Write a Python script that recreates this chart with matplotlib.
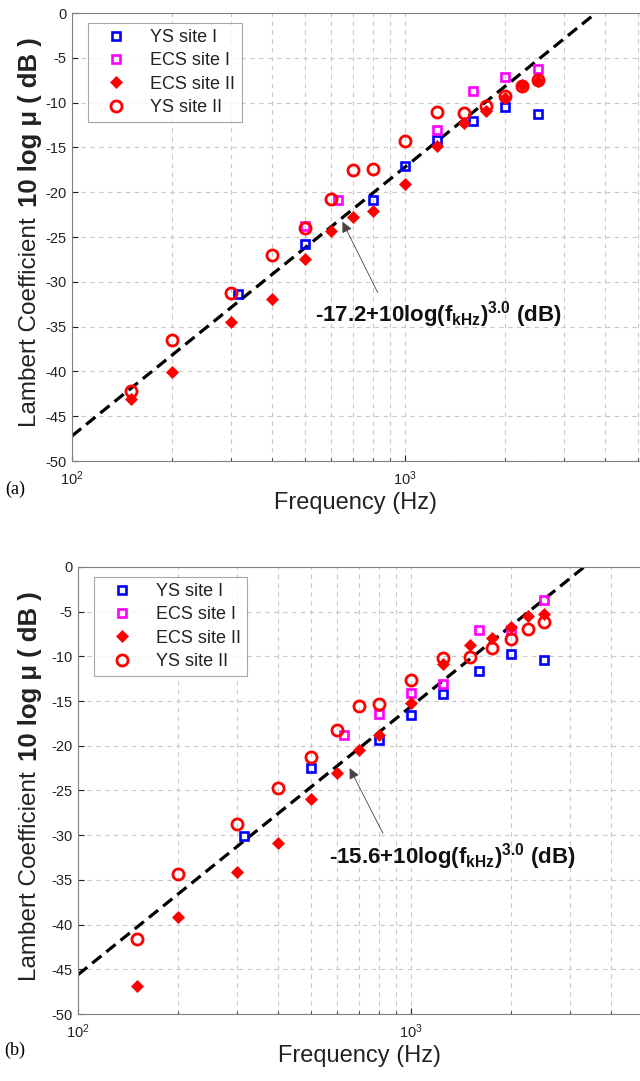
import numpy as np
import matplotlib
matplotlib.use("Agg")
import matplotlib.pyplot as plt

plt.rcParams['font.family'] = ['Liberation Sans', 'DejaVu Sans']
plt.rcParams['mathtext.fontset'] = 'custom'
plt.rcParams['mathtext.rm'] = 'Liberation Sans'
plt.rcParams['mathtext.bf'] = 'Liberation Sans:bold'
plt.rcParams['mathtext.it'] = 'Liberation Sans:italic'
plt.rcParams['axes.unicode_minus'] = False

# ---------------- data ----------------
series_names = ["YS site I", "ECS site I", "ECS site II", "YS site II"]

freq_site2 = [150, 200, 300, 400, 500, 600, 700, 800, 1000, 1250, 1500, 1750, 2000, 2250, 2500]

# panel (a)
ys1_f_a = [315, 500, 800, 1000, 1250, 1600, 2000, 2500]
ys1_v_a = [-31.4, -25.8, -20.9, -17.1, -14.2, -12.0, -10.5, -11.3]
ecs1_f_a = [500, 630, 1250, 1600, 2000, 2500]
ecs1_v_a = [-23.8, -20.9, -13.1, -8.7, -7.1, -6.2]
ecs2_v_a = [-43.1, -40.1, -34.5, -31.9, -27.4, -24.3, -22.8, -22.1, -19.1, -14.8, -12.3, -10.9, -9.5, -8.0, -7.6]
ys2_v_a = [-42.2, -36.5, -31.2, -27.0, -24.0, -20.8, -17.5, -17.4, -14.3, -11.1, -11.2, -10.4, -9.3, -8.1, -7.5]
fit_const_a = -17.2

# panel (b)
ys1_f_b = [315, 500, 800, 1000, 1250, 1600, 2000, 2500]
ys1_v_b = [-30.1, -22.5, -19.4, -16.5, -14.2, -11.6, -9.7, -10.4]
ecs1_f_b = [630, 800, 1000, 1250, 1600, 2000, 2500]
ecs1_v_b = [-18.8, -16.4, -14.1, -13.1, -7.1, -7.0, -3.7]
ecs2_v_b = [-46.9, -39.2, -34.1, -30.9, -25.9, -23.0, -20.5, -18.8, -15.2, -10.9, -8.7, -7.9, -6.7, -5.5, -5.3]
ys2_v_b = [-41.6, -34.3, -28.8, -24.7, -21.3, -18.2, -15.5, -15.3, -12.6, -10.2, -10.1, -9.1, -8.1, -6.9, -6.2]
fit_const_b = -15.6
fit_exponent = 3.0

yticks = [0, -5, -10, -15, -20, -25, -30, -35, -40, -45, -50]

W, H = 640, 1081
fig = plt.figure(figsize=(W / 100, H / 100), dpi=100)

GRID = '#c8c8c8'
FRAME = '#808080'


def make_axes(left_px, top_px, bottom_px):
    decade = 333.0
    right_px = W
    ax = fig.add_axes([left_px / W, 1 - bottom_px / H, (right_px - left_px) / W, (bottom_px - top_px) / H])
    ax.set_xscale('log')
    xmax = 100 * 10 ** ((right_px - left_px) / decade)
    ax.set_xlim(100, xmax)
    ax.set_ylim(-50, 0)
    ax.set_yticks(yticks)
    ax.set_xticks([100, 1000])
    ax.grid(True, which='major', axis='both', linestyle=(0, (4, 4)), color=GRID, linewidth=0.8)
    ax.grid(True, which='minor', axis='x', linestyle=(0, (4, 4)), color=GRID, linewidth=0.8)
    ax.tick_params(which='both', direction='in', colors='#222222', labelsize=10.5, length=4)
    ax.tick_params(axis='y', pad=4)
    ax.tick_params(axis='x', pad=6)
    ax.tick_params(which='minor', length=2)
    for s in ['left', 'bottom', 'top']:
        ax.spines[s].set_color(FRAME)
        ax.spines[s].set_linewidth(0.8)
    ax.spines['right'].set_visible(False)
    ax.set_axisbelow(True)
    return ax


def draw(ax, ys1_f, ys1_v, ecs1_f, ecs1_v, ecs2_v, ys2_v, c, label_txt, txt_xy, tail_xy, head_xy):
    ff = np.logspace(2, np.log10(6000), 300)
    ax.plot(ff, c + 10 * fit_exponent * np.log10(ff / 1000.0), color='black', lw=2.3,
            linestyle=(0, (3.7, 2.0)), zorder=2)
    ax.plot(ys1_f, ys1_v, linestyle='none', marker='s', ms=6, mfc='none', mec='#0000ff',
            mew=1.9, label=series_names[0], zorder=3)
    ax.plot(ecs1_f, ecs1_v, linestyle='none', marker='s', ms=6, mfc='none', mec='#ff00ff',
            mew=1.9, label=series_names[1], zorder=3)
    ax.plot(freq_site2, ecs2_v, linestyle='none', marker='D', ms=6, mfc='#ff0000', mec='#ff0000',
            mew=0.5, label=series_names[2], zorder=3)
    ax.plot(freq_site2, ys2_v, linestyle='none', marker='o', ms=8, mfc='none', mec='#ff0000',
            mew=2.0, label=series_names[3], zorder=3)
    leg = ax.legend(loc='upper left', fontsize=13, frameon=True, fancybox=False,
                    bbox_to_anchor=(0.028, 0.978), borderaxespad=0.0, handletextpad=0.7,
                    labelspacing=0.35, borderpad=0.35, handlelength=2.4)
    leg.get_frame().set_edgecolor('#909090')
    leg.get_frame().set_linewidth(0.8)
    for t in leg.get_texts():
        t.set_color('#222222')
    ax.annotate('', xy=head_xy, xytext=tail_xy,
                arrowprops=dict(arrowstyle='-|>', color='#444444', lw=0.6,
                                mutation_scale=16, shrinkA=0, shrinkB=0), zorder=4)
    ax.text(txt_xy[0], txt_xy[1], label_txt, fontsize=16, fontweight='bold',
            ha='left', va='center', zorder=5, color='#111111')
    ax.set_xlabel('Frequency (Hz)', fontsize=17, color='#222222', labelpad=3)


ax_a = make_axes(72, 13, 461)
draw(ax_a, ys1_f_a, ys1_v_a, ecs1_f_a, ecs1_v_a, ecs2_v_a, ys2_v_a, fit_const_a,
     r'-17.2+10log(f$_{\mathbf{kHz}}$)$^{\mathbf{3.0}}$ (dB)', (535, -33.7), (828, -31.2), (649, -23.3))

ax_b = make_axes(78, 567, 1014)
draw(ax_b, ys1_f_b, ys1_v_b, ecs1_f_b, ecs1_v_b, ecs2_v_b, ys2_v_b, fit_const_b,
     r'-15.6+10log(f$_{\mathbf{kHz}}$)$^{\mathbf{3.0}}$ (dB)', (566, -32.4), (824, -29.8), (654, -22.5))

# y labels (regular + bold parts)
for brk_px in (212, 766):
    yb = 1 - brk_px / H
    fig.text(30 / W, yb - 5 / H, 'Lambert Coefficient', rotation=90, rotation_mode='anchor',
             ha='right', va='center', fontsize=17.5, color='#222222')
    fig.text(30 / W, yb + 5 / H, '10 log \u03bc ( dB )', rotation=90, rotation_mode='anchor',
             ha='left', va='center', fontsize=18.5, fontweight='bold', color='#222222')

fig.text(15 / W, 1 - 489 / H, '(a)', fontsize=13, family=['Liberation Serif', 'DejaVu Serif'],
         ha='center', va='center')
fig.text(15 / W, 1 - 1050 / H, '(b)', fontsize=13, family=['Liberation Serif', 'DejaVu Serif'],
         ha='center', va='center')

fig.savefig('out.png', dpi=100)
